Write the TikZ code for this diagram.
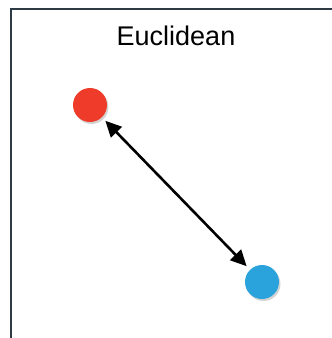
\documentclass[tikz,border=0pt]{standalone}
\usepackage{fontspec}
\setmainfont{Liberation Sans}
\usetikzlibrary{arrows.meta,shadows}
\definecolor{ptred}{HTML}{EE3B2A}
\definecolor{ptblue}{HTML}{2AA2DC}
\definecolor{framegray}{HTML}{2E3B44}
\begin{document}
\begin{tikzpicture}[
    x=1pt, y=-1pt,
    point/.style={circle, inner sep=0pt, minimum size=34pt, outer sep=5pt,
        drop shadow={shadow xshift=1.5pt, shadow yshift=-2pt, opacity=0.35}},
    arrow/.style={{Triangle[length=16pt,width=15pt]}-{Triangle[length=16pt,width=15pt]}, line width=2.6pt}
]
\useasboundingbox (0,0) rectangle (332,338);

% Frame (left and top edges only)
\draw[framegray, line width=2.2pt] (11,338) -- (11,9) -- (332,9);

% Title
\node (title) at (176,36) {\fontsize{27}{31}\selectfont Euclidean};

% Define the two points
\node[point, fill=ptred] (P) at (90,105) {};
\node[point, fill=ptblue] (Q) at (262,282) {};

% Draw the distance (bidirectional)
\draw[arrow] (P) -- (Q);

\end{tikzpicture}
\end{document}
